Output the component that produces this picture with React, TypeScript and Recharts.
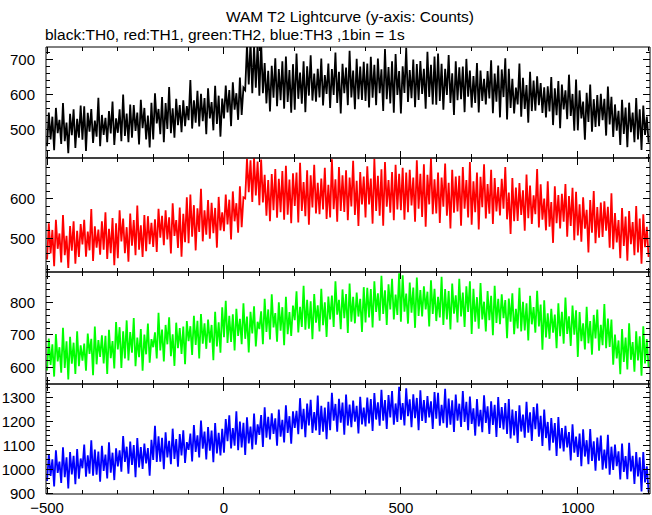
import React from 'react';
import { LineChart, Line, XAxis, YAxis } from 'recharts';

// 1 s bins, sampled every 5 s
const times = Array.from({ length: 341 }, (_, i) => -500 + i * 5);

const th0 = [
  452, 548, 471, 536, 440, 561, 489, 527, 458, 575, 466, 519, 432, 544, 483, 557, 447, 530, 476, 568,
  470, 566, 438, 547, 493, 558, 461, 525, 479, 590, 452, 541, 484, 533, 463, 552, 488, 579, 455, 531,
  490, 557, 466, 599, 481, 545, 463, 571, 476, 569, 495, 548, 457, 584, 503, 561, 471, 539, 448, 576,
  471, 603, 517, 558, 486, 592, 463, 575, 501, 621, 489, 560, 476, 587, 512, 569, 492, 583, 509, 566,
  526, 641, 502, 583, 519, 610, 508, 601, 523, 589, 486, 617, 531, 578, 497, 624, 515, 596, 479, 588,
  531, 625, 548, 612, 509, 634, 556, 603, 527, 648, 541, 619, 612, 741, 628, 752, 603, 738, 619, 745,
  596, 748, 603, 689, 574, 667, 551, 681, 590, 703, 566, 672, 583, 694, 559, 708, 578, 669, 547, 686,
  556, 716, 587, 662, 573, 694, 549, 680, 596, 711, 582, 659, 579, 673, 591, 702, 568, 655, 601, 688,
  561, 672, 598, 719, 575, 664, 545, 687, 603, 676, 569, 724, 591, 668, 557, 701, 586, 679, 584, 693,
  581, 688, 562, 707, 590, 684, 569, 702, 603, 671, 552, 729, 586, 678, 574, 694, 547, 715, 598, 666,
  545, 680, 604, 733, 578, 669, 589, 699, 563, 686, 584, 695, 601, 673, 559, 721, 592, 684, 571, 708,
  570, 716, 581, 687, 556, 673, 598, 712, 575, 660, 541, 694, 583, 677, 586, 679, 549, 701, 593, 668,
  562, 652, 575, 689, 548, 668, 581, 644, 571, 666, 588, 697, 546, 659, 579, 682, 534, 671, 592, 703,
  528, 673, 561, 644, 545, 619, 571, 688, 536, 647, 558, 626, 519, 664, 552, 639, 553, 651, 569, 632,
  547, 620, 534, 623, 551, 649, 512, 617, 540, 638, 503, 628, 557, 611, 529, 656, 538, 601, 496, 642,
  497, 611, 531, 579, 470, 604, 521, 628, 493, 586, 507, 598, 509, 601, 526, 587, 482, 622, 514, 593,
  478, 571, 496, 553, 455, 584, 487, 562, 449, 576, 492, 548, 463, 589, 471, 557, 441, 568, 484, 536, 462,
];

const th1 = [
  446, 538, 461, 521, 429, 547, 473, 512, 438, 559, 457, 506, 424, 531, 468, 543, 435, 519, 452, 536,
  484, 547, 453, 517, 469, 574, 442, 530, 476, 522, 458, 543, 471, 566, 447, 524, 462, 551, 431, 538,
  449, 571, 492, 550, 462, 528, 440, 563, 481, 546, 457, 583, 471, 533, 452, 559, 467, 556, 485, 539,
  478, 548, 465, 575, 501, 557, 482, 571, 497, 553, 461, 589, 506, 546, 475, 578, 453, 562, 490, 604,
  487, 611, 504, 584, 469, 576, 516, 626, 492, 571, 509, 597, 499, 590, 513, 577, 476, 605, 520, 566,
  518, 611, 535, 598, 497, 619, 543, 589, 514, 632, 528, 604, 601, 702, 617, 698, 592, 704, 609, 695,
  584, 700, 591, 661, 557, 648, 543, 663, 571, 676, 552, 651, 566, 671, 547, 684, 560, 649, 538, 665,
  582, 667, 540, 692, 569, 643, 556, 673, 534, 660, 578, 687, 563, 641, 561, 652, 573, 679, 549, 636,
  553, 701, 574, 650, 542, 681, 569, 660, 567, 673, 546, 654, 581, 697, 559, 646, 531, 668, 586, 657,
  553, 683, 586, 652, 537, 702, 569, 659, 557, 675, 532, 694, 580, 648, 565, 668, 546, 687, 573, 664,
  571, 679, 547, 667, 566, 674, 583, 654, 542, 698, 575, 664, 554, 688, 529, 661, 586, 703, 561, 650,
  563, 667, 539, 654, 580, 690, 557, 641, 525, 674, 565, 657, 568, 659, 532, 681, 575, 648, 553, 694,
  534, 645, 566, 667, 522, 656, 579, 688, 550, 638, 562, 674, 536, 653, 568, 630, 558, 651, 575, 681,
  548, 616, 511, 653, 543, 629, 544, 640, 559, 622, 519, 662, 551, 634, 536, 609, 561, 676, 527, 637,
  547, 601, 520, 645, 529, 592, 488, 632, 538, 610, 525, 613, 542, 638, 504, 607, 531, 628, 495, 618,
  507, 586, 491, 604, 524, 572, 464, 597, 514, 620, 487, 579, 501, 591, 503, 594, 519, 580, 476, 614,
  472, 564, 489, 546, 449, 577, 480, 555, 443, 569, 485, 541, 457, 582, 464, 550, 435, 561, 477, 529, 452,
];

const th2 = [
  590, 689, 607, 671, 571, 703, 618, 662, 583, 722, 598, 680, 562, 694, 611, 676, 579, 711, 603, 668,
  620, 673, 589, 704, 641, 688, 575, 726, 609, 684, 632, 699, 612, 697, 579, 716, 628, 681, 596, 740,
  655, 724, 598, 711, 627, 745, 621, 709, 645, 752, 603, 692, 631, 718, 589, 701, 640, 735, 614, 687,
  662, 708, 627, 769, 652, 717, 618, 731, 671, 755, 634, 702, 604, 738, 659, 721, 641, 726, 609, 743,
  681, 727, 638, 759, 669, 744, 627, 765, 673, 736, 657, 748, 676, 731, 622, 772, 664, 739, 645, 786,
  693, 806, 675, 759, 678, 764, 652, 781, 697, 750, 671, 798, 688, 757, 646, 772, 705, 789, 664, 741,
  718, 773, 671, 812, 709, 779, 686, 826, 723, 768, 679, 801, 713, 786, 668, 818, 702, 771, 697, 791,
  746, 835, 708, 787, 725, 852, 716, 809, 719, 804, 687, 827, 738, 792, 711, 843, 730, 801, 694, 819,
  748, 822, 725, 866, 763, 809, 718, 841, 752, 827, 706, 859, 741, 818, 736, 831, 757, 812, 709, 848,
  739, 846, 754, 842, 723, 866, 771, 829, 744, 883, 765, 838, 731, 857, 779, 874, 748, 825, 762, 891,
  741, 885, 772, 828, 735, 862, 769, 847, 722, 878, 759, 839, 757, 851, 779, 834, 726, 869, 765, 843,
  743, 818, 754, 880, 731, 842, 748, 836, 717, 859, 766, 823, 739, 874, 757, 831, 725, 851, 771, 866,
  703, 843, 741, 817, 719, 861, 748, 803, 711, 836, 746, 821, 699, 852, 737, 812, 733, 826, 752, 808,
  690, 813, 741, 829, 702, 781, 720, 846, 711, 803, 714, 798, 683, 821, 733, 786, 707, 837, 726, 794,
  654, 807, 692, 767, 688, 781, 707, 763, 659, 798, 696, 772, 673, 816, 703, 758, 666, 791, 701, 776,
  632, 771, 681, 736, 655, 787, 674, 743, 639, 762, 689, 779, 651, 731, 668, 796, 659, 751, 663, 748,
  608, 701, 627, 683, 578, 718, 616, 692, 593, 736, 623, 678, 586, 711, 621, 696, 574, 727, 612, 687, 599,
];

const th3 = [
  951, 1063, 972, 1041, 928, 1079, 985, 1032, 943, 1091, 967, 1050, 920, 1072, 979, 1056, 938, 1084, 961, 1045,
  1004, 1103, 969, 1058, 982, 1121, 973, 1082, 977, 1074, 948, 1098, 993, 1061, 962, 1112, 986, 1069, 955, 1087,
  1012, 1079, 990, 1138, 1031, 1094, 982, 1115, 1018, 1101, 967, 1130, 1008, 1092, 1001, 1107, 1024, 1088, 973, 1123,
  1039, 1181, 1030, 1137, 1032, 1131, 1000, 1154, 1049, 1118, 1021, 1169, 1043, 1126, 1011, 1147, 1058, 1162, 1026, 1113,
  1081, 1149, 1033, 1184, 1072, 1141, 1049, 1203, 1086, 1157, 1041, 1176, 1077, 1161, 1029, 1192, 1066, 1152, 1058, 1168,
  1069, 1209, 1117, 1225, 1087, 1171, 1098, 1241, 1079, 1199, 1091, 1193, 1060, 1216, 1108, 1178, 1083, 1232, 1102, 1187,
  1143, 1226, 1093, 1258, 1131, 1218, 1124, 1233, 1147, 1212, 1098, 1249, 1136, 1206, 1112, 1266, 1151, 1221, 1106, 1241,
  1172, 1243, 1146, 1296, 1167, 1252, 1133, 1274, 1182, 1289, 1151, 1238, 1162, 1307, 1143, 1264, 1156, 1257, 1125, 1281,
  1163, 1318, 1202, 1272, 1156, 1293, 1194, 1278, 1144, 1311, 1182, 1269, 1175, 1286, 1198, 1264, 1149, 1302, 1187, 1257,
  1178, 1299, 1191, 1292, 1160, 1317, 1207, 1279, 1181, 1331, 1202, 1288, 1168, 1309, 1216, 1326, 1186, 1274, 1197, 1343,
  1206, 1276, 1182, 1337, 1221, 1291, 1175, 1312, 1213, 1297, 1163, 1329, 1201, 1288, 1193, 1305, 1216, 1283, 1168, 1321,
  1211, 1318, 1181, 1268, 1192, 1335, 1173, 1294, 1186, 1287, 1155, 1311, 1202, 1273, 1176, 1326, 1197, 1281, 1163, 1303,
  1189, 1254, 1140, 1292, 1178, 1247, 1154, 1308, 1193, 1262, 1147, 1283, 1185, 1268, 1135, 1301, 1172, 1259, 1166, 1276,
  1147, 1292, 1128, 1249, 1141, 1242, 1110, 1266, 1157, 1228, 1131, 1281, 1152, 1237, 1118, 1259, 1167, 1274, 1136, 1223,
  1097, 1249, 1130, 1197, 1078, 1213, 1111, 1192, 1055, 1217, 1087, 1171, 1074, 1181, 1091, 1155, 1037, 1187, 1069, 1136,
  1051, 1149, 1013, 1166, 1053, 1121, 1021, 1167, 1035, 1116, 994, 1132, 1036, 1140, 998, 1082, 1003, 1144, 977, 1094,
  997, 1103, 1013, 1075, 958, 1107, 989, 1055, 959, 1110, 991, 1056, 939, 1072, 970, 1050, 908, 1072, 945, 1012, 905,
];

const steps = (a: number, b: number, s: number) => {
  const out: number[] = [];
  for (let v = a; v <= b; v += s) out.push(v);
  return out;
};

const xTicks = steps(-500, 1200, 100);
const xDomain = [-503, 1204];

const FONT = '"Liberation Sans", Arial, Helvetica, sans-serif';

const panels = [
  { name: 'TH0', values: th0, color: '#000000', domain: [418, 735], ticks: steps(420, 720, 20), top: 46, plotH: 111 },
  { name: 'TH1', values: th1, color: '#ff0000', domain: [414, 704], ticks: steps(420, 680, 20), top: 157, plotH: 114 },
  { name: 'TH2', values: th2, color: '#00ff00', domain: [548, 895], ticks: steps(560, 880, 20), top: 271, plotH: 112 },
  { name: 'TH3', values: th3, color: '#0000ff', domain: [897, 1355], ticks: steps(900, 1340, 20), top: 383, plotH: 110 },
];

const fmt = (v: number) => (v < 0 ? `\u2212${-v}` : `${v}`);

const LeftTick = ({ x, y, payload }: any) => {
  const major = payload.value % 100 === 0;
  return (
    <g>
      <line x1={x} y1={y} x2={x + (major ? 7 : 4)} y2={y} stroke="#000" shapeRendering="crispEdges" />
      {major && (
        <text x={x - 11} y={y + 5.5} textAnchor="end" fontSize={15} fontFamily={FONT} fill="#000">
          {payload.value}
        </text>
      )}
    </g>
  );
};

const RightTick = ({ x, y, payload }: any) => {
  const major = payload.value % 100 === 0;
  return <line x1={x} y1={y} x2={x - (major ? 7 : 4)} y2={y} stroke="#000" shapeRendering="crispEdges" />;
};

const TopTick = ({ x, y, payload }: any) => {
  const major = payload.value % 500 === 0;
  return <line x1={x} y1={y} x2={x} y2={y + (major ? 7 : 4)} stroke="#000" shapeRendering="crispEdges" />;
};

const makeBottomTick = (showLabel: boolean) => ({ x, y, payload }: any) => {
  const major = payload.value % 500 === 0;
  return (
    <g>
      <line x1={x} y1={y} x2={x} y2={y - (major ? 7 : 4)} stroke="#000" shapeRendering="crispEdges" />
      {showLabel && major && (
        <text x={x} y={y + 19} textAnchor="middle" fontSize={15} fontFamily={FONT} fill="#000">
          {fmt(payload.value)}
        </text>
      )}
    </g>
  );
};

const Panel = ({ p, last }: { p: (typeof panels)[number]; last: boolean }) => {
  const rows = times.map((t, i) => ({ t, v: p.values[i] }));
  const bottomH = last ? 21 : 1;
  return (
    <div style={{ position: 'absolute', left: 0, top: p.top }}>
      <LineChart
        width={652}
        height={1 + p.plotH + bottomH}
        data={rows}
        margin={{ top: 0, right: 1, bottom: 0, left: 0 }}
      >
        <XAxis
          xAxisId="b"
          dataKey="t"
          type="number"
          domain={xDomain}
          allowDataOverflow
          ticks={xTicks}
          interval={0}
          orientation="bottom"
          height={bottomH}
          tickSize={0}
          tickMargin={0}
          tickLine={false}
          stroke="#000"
          tick={makeBottomTick(last)}
        />
        <XAxis
          xAxisId="t"
          dataKey="t"
          type="number"
          domain={xDomain}
          allowDataOverflow
          ticks={xTicks}
          interval={0}
          orientation="top"
          height={1}
          tickSize={0}
          tickMargin={0}
          tickLine={false}
          stroke="#000"
          tick={TopTick}
        />
        <YAxis
          yAxisId="l"
          type="number"
          domain={p.domain}
          allowDataOverflow
          ticks={p.ticks}
          interval={0}
          width={46}
          tickSize={0}
          tickMargin={0}
          tickLine={false}
          stroke="#000"
          tick={LeftTick}
        />
        <YAxis
          yAxisId="r"
          orientation="right"
          type="number"
          domain={p.domain}
          allowDataOverflow
          ticks={p.ticks}
          interval={0}
          width={1}
          tickSize={0}
          tickMargin={0}
          tickLine={false}
          stroke="#000"
          tick={RightTick}
        />
        <Line
          xAxisId="b"
          yAxisId="l"
          type="linear"
          dataKey="v"
          name={p.name}
          stroke={p.color}
          strokeWidth={1.8}
          dot={false}
          isAnimationActive={false}
        />
      </LineChart>
    </div>
  );
};

export default function App() {
  return (
    <div style={{ position: 'absolute', left: 0, top: 0, width: 652, height: 515, background: '#fff', fontFamily: FONT }}>
      <svg width={652} height={46} style={{ position: 'absolute', left: 0, top: 0 }}>
        <text x={350} y={22} textAnchor="middle" fontSize={15.5} fontFamily={FONT} fill="#000">
          WAM T2 Lightcurve (y-axis: Counts)
        </text>
        <text x={45} y={40} fontSize={15.5} fontFamily={FONT} fill="#000">
          black:TH0, red:TH1, green:TH2, blue:TH3 ,1bin = 1s
        </text>
      </svg>
      {panels.map((p, i) => (
        <Panel key={p.name} p={p} last={i === panels.length - 1} />
      ))}
    </div>
  );
}
